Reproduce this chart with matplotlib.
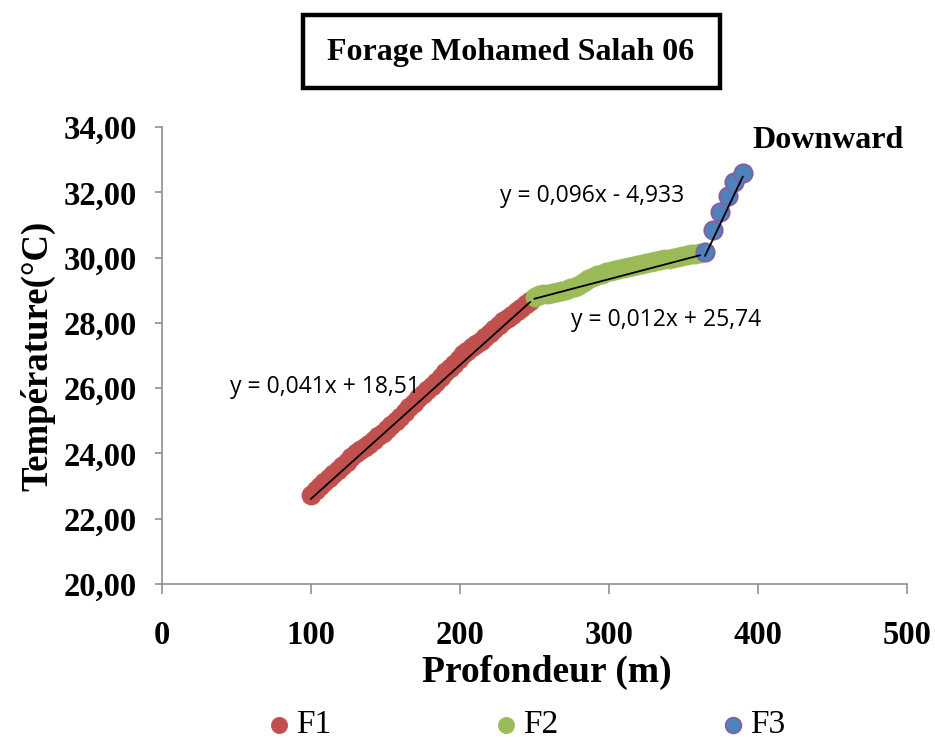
import matplotlib
matplotlib.use("Agg")
import matplotlib.pyplot as plt
from matplotlib.patches import Rectangle

# Données
f1_x = [100, 103, 106, 109, 112, 115, 118, 121, 124, 127, 130, 133, 136, 139, 142,
        145, 148, 151, 154, 157, 160, 163, 166, 169, 172, 175, 178, 181, 184, 187,
        190, 193, 196, 199, 202, 205, 208, 211, 214, 217, 220, 223, 226, 229, 232,
        235, 238, 241, 244, 247]
f1_y = [22.72, 22.88, 23.00, 23.12, 23.25, 23.38, 23.50, 23.62, 23.75, 23.90, 24.00,
        24.10, 24.20, 24.30, 24.40, 24.52, 24.63, 24.75, 24.88, 25.00, 25.13, 25.27,
        25.42, 25.56, 25.70, 25.82, 25.95, 26.08, 26.20, 26.35, 26.50, 26.62, 26.75,
        26.90, 27.05, 27.15, 27.25, 27.35, 27.45, 27.57, 27.68, 27.80, 27.92, 28.05,
        28.15, 28.25, 28.37, 28.47, 28.58, 28.68]

f2_x = [250, 253, 256, 259, 262, 265, 268, 271, 274, 277, 280, 283, 286, 289, 292,
        295, 298, 301, 304, 307, 310, 313, 316, 319, 322, 325, 328, 331, 334, 337,
        340, 343, 346, 349, 352, 355, 358, 361]
f2_y = [28.80, 28.84, 28.87, 28.90, 28.93, 28.96, 28.99, 29.02, 29.06, 29.10, 29.16,
        29.24, 29.33, 29.40, 29.46, 29.51, 29.55, 29.59, 29.62, 29.65, 29.68, 29.71,
        29.74, 29.77, 29.80, 29.83, 29.86, 29.89, 29.92, 29.95, 29.97, 30.00, 30.02,
        30.05, 30.08, 30.10, 30.12, 30.14]

f3_x = [364.5, 369.8, 374.5, 379.6, 384.0, 389.7]
f3_y = [30.17, 30.84, 31.40, 31.90, 32.33, 32.59]

# Courbes de tendance (pente, ordonnée à l'origine)
tend_f1 = (0.041, 18.51)
tend_f2 = (0.012, 25.74)
tend_f3 = (0.096, -4.933)

serif = "Liberation Serif"

fig = plt.figure(figsize=(9.35, 7.43), dpi=100)
ax = fig.add_axes([0.1733, 0.214, 0.7968, 0.615])

ax.scatter(f1_x, f1_y, s=190, color="#C0504D", edgecolor="#C0504D", linewidth=0.5, label="F1", zorder=3)
ax.scatter(f2_x, f2_y, s=190, color="#9BBB59", edgecolor="#9BBB59", linewidth=0.5, label="F2", zorder=3)
ax.scatter(f3_x, f3_y, s=170, color="#4F81BD", edgecolor="#8064A2", linewidth=1.5, label="F3", zorder=3)

for xs, (a, b) in [(f1_x, tend_f1), (f2_x, tend_f2), (f3_x, tend_f3)]:
    x0, x1 = xs[0], xs[-1]
    ax.plot([x0, x1], [a * x0 + b, a * x1 + b], color="black", linewidth=1.3, zorder=4)

eq_font = dict(family="Open Sans", fontsize=16.5, color="black")
ax.text(173.2, 26.04, "y = 0,041x + 18,51", ha="right", va="center", **eq_font)
ax.text(274.5, 28.09, "y = 0,012x + 25,74", ha="left", va="center", **eq_font)
ax.text(226.8, 31.89, "y = 0,096x - 4,933", ha="left", va="center", **eq_font)
ax.text(396, 33.6, "Downward", ha="left", va="center", family=serif,
        fontweight="bold", fontsize=23)

ax.set_xlim(0, 500)
ax.set_ylim(20, 34)
ax.set_xticks([0, 100, 200, 300, 400, 500])
ax.set_yticks([20, 22, 24, 26, 28, 30, 32, 34])
ax.set_yticklabels([("%.2f" % v).replace(".", ",") for v in ax.get_yticks()])

for lab in ax.get_xticklabels() + ax.get_yticklabels():
    lab.set_family(serif)
    lab.set_fontweight("bold")
    lab.set_fontsize(23.5)

ax.tick_params(axis="x", direction="out", length=7, width=1.1, color="#868686", pad=19)
ax.tick_params(axis="y", direction="out", length=5, width=1.1, color="#868686", pad=13)

for s in ["top", "right"]:
    ax.spines[s].set_visible(False)
for s in ["left", "bottom"]:
    ax.spines[s].set_color("#868686")
    ax.spines[s].set_linewidth(1.1)

ax.set_xlabel("Profondeur (m)", family=serif, fontweight="bold", fontsize=27, labelpad=6)
ax.xaxis.set_label_coords(0.516, -0.155)
ax.set_ylabel("Température(°C)", family=serif, fontweight="bold", fontsize=26.5, labelpad=6)

# Titre encadré
fig.patches.append(Rectangle((0.324, 0.8816), 0.446, 0.098, transform=fig.transFigure,
                             fill=False, edgecolor="black", linewidth=3.2))
fig.text(0.5465, 0.930, "Forage Mohamed Salah 06", ha="center", va="center",
         family=serif, fontweight="bold", fontsize=23)

fig.legend(loc="center", bbox_to_anchor=(0.563, 0.024), ncol=3, frameon=False,
           prop=dict(family=serif, size=24), handletextpad=0.15, handlelength=0.7,
           columnspacing=4.9, scatterpoints=1, markerscale=0.85)

fig.savefig("out.png", dpi=100)
